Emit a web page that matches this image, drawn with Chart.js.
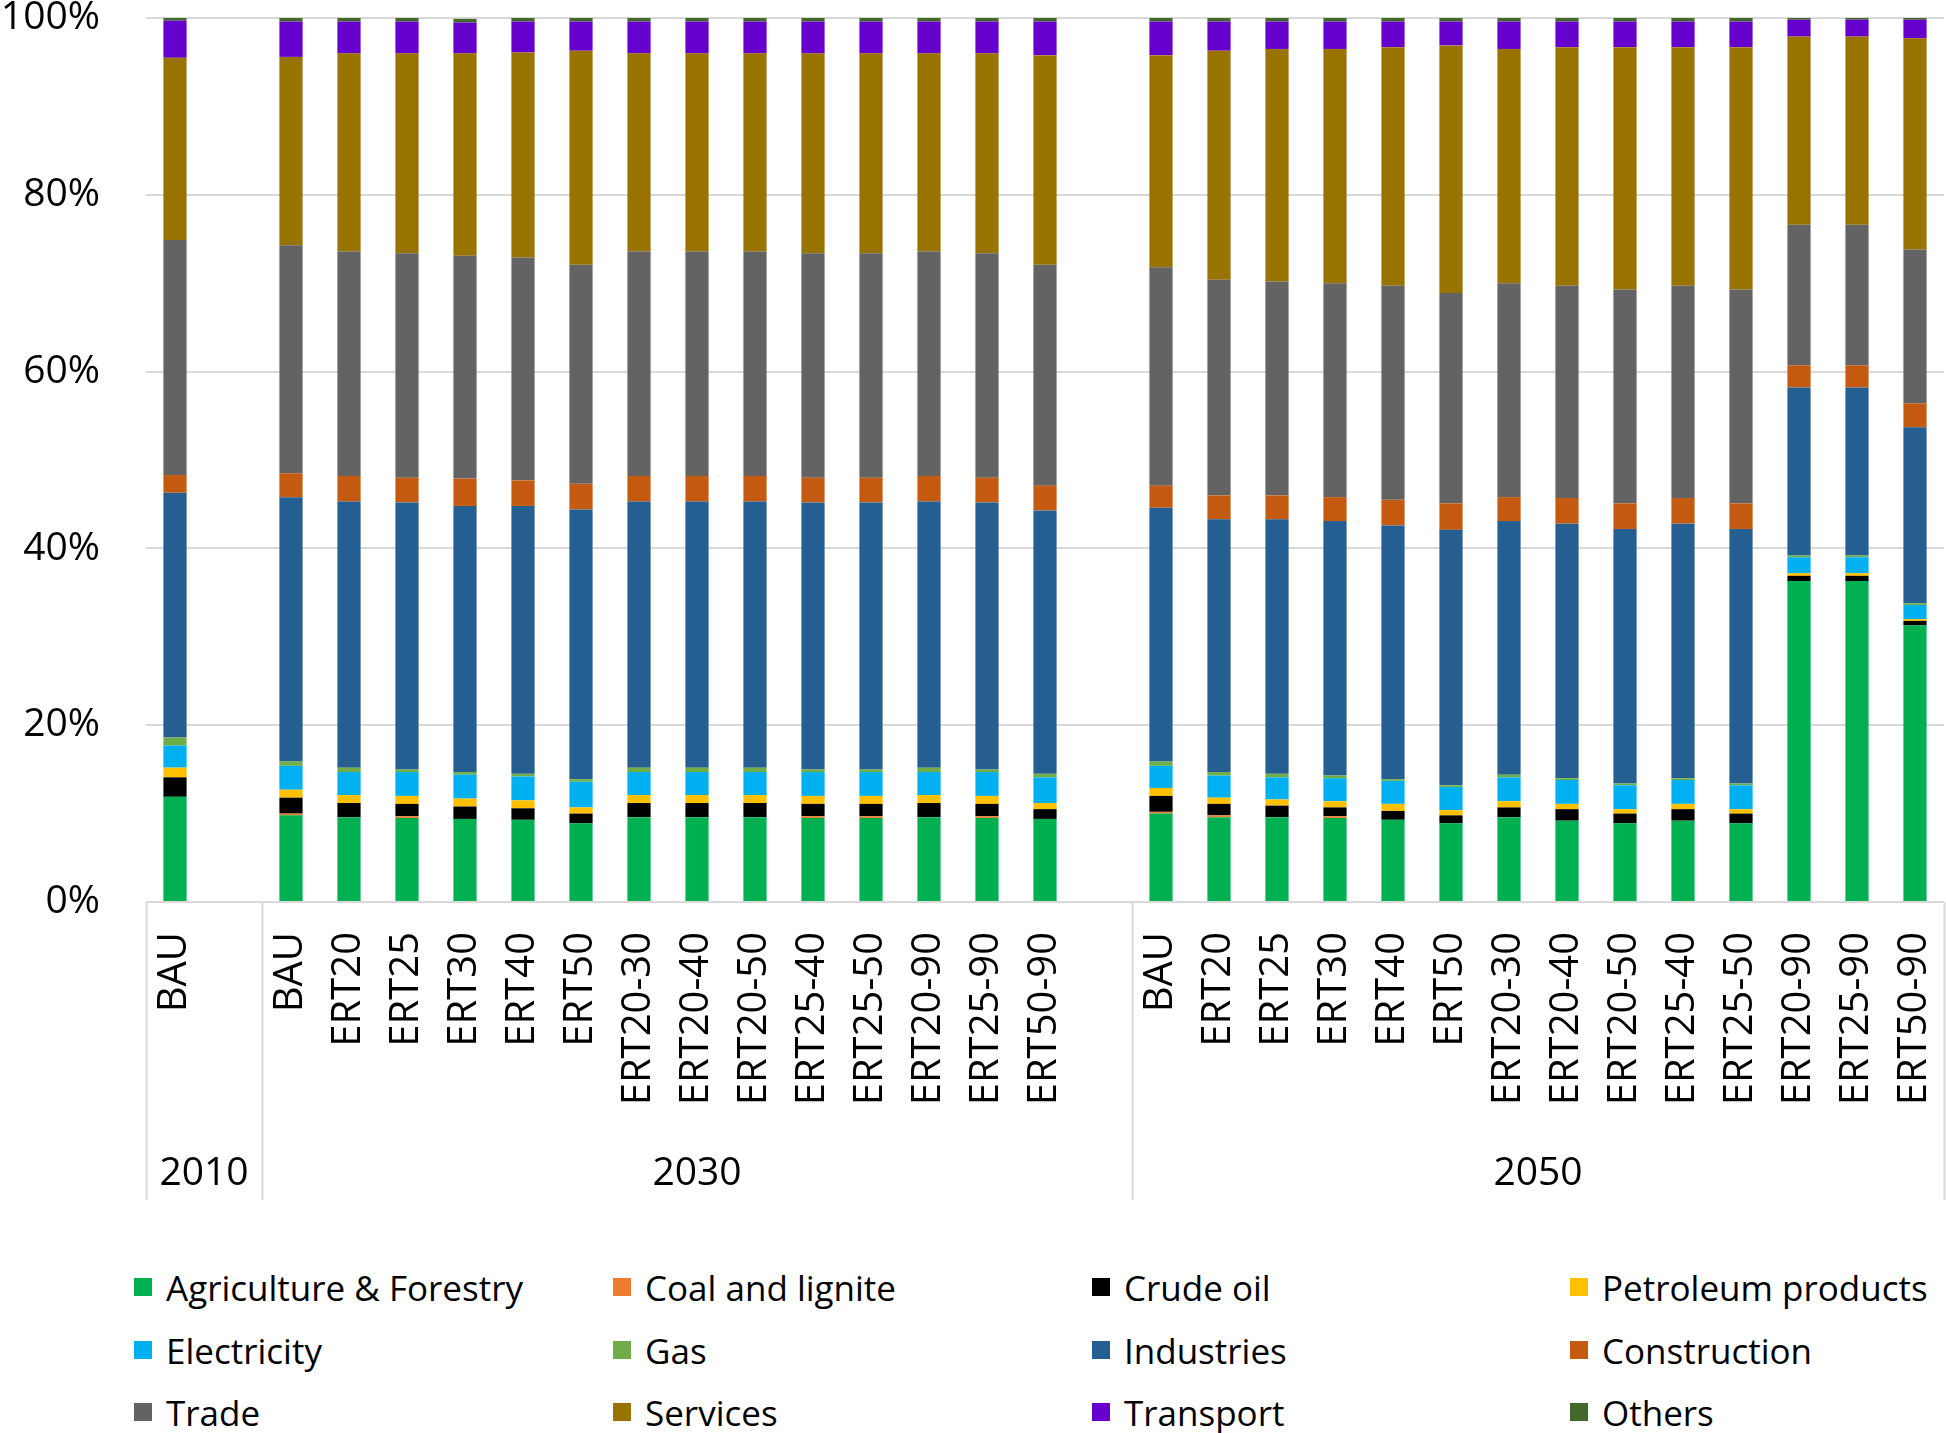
<!DOCTYPE html>
<html>
<head>
<meta charset="utf-8">
<script src="https://cdn.jsdelivr.net/npm/chart.js@4.4.1/dist/chart.umd.min.js"></script>
<style>
  html, body { margin: 0; padding: 0; background: #ffffff; }
  #wrap { position: relative; width: 1946px; height: 1433px; overflow: hidden; }
  #chart { position: absolute; left: 0; top: 0; }
  #legend { position: absolute; left: 0; top: 1262px; width: 1946px; font-family: "Open Sans", sans-serif; font-size: 35px; color: #000; }
  .li { position: absolute; display: flex; align-items: center; white-space: nowrap; height: 50px; }
  .sw { width: 18px; height: 18px; margin-right: 14px; flex: none; }
</style>
</head>
<body>
<div id="wrap">
  <canvas id="chart" width="1946" height="1215"></canvas>
  <div id="legend"></div>
</div>
<script>
// ---- Data (percent shares, stacked to 100%) ----
const categories = ["BAU", "",
  "BAU","ERT20","ERT25","ERT30","ERT40","ERT50","ERT20-30","ERT20-40","ERT20-50","ERT25-40","ERT25-50","ERT20-90","ERT25-90","ERT50-90", "",
  "BAU","ERT20","ERT25","ERT30","ERT40","ERT50","ERT20-30","ERT20-40","ERT20-50","ERT25-40","ERT25-50","ERT20-90","ERT25-90","ERT50-90"];
const groupLabels = ["2010", "2030", "2050"];
const groupStart = [0, 2, 17];
const groupEnd = [1, 16, 30];
const yTicks = [0, 20, 40, 60, 80, 100];

const agriculture = [11.9, null, 9.8, 9.6, 9.5, 9.4, 9.3, 8.9, 9.6, 9.6, 9.6, 9.5, 9.5, 9.6, 9.5, 9.4, null, 10.0, 9.6, 9.6, 9.5, 9.3, 8.9, 9.6, 9.2, 8.9, 9.2, 8.9, 36.3, 36.3, 31.3];
const coal = [0, null, 0.2, 0, 0.2, 0, 0, 0, 0, 0, 0, 0.2, 0.2, 0, 0.2, 0, null, 0.2, 0.2, 0, 0.2, 0, 0, 0, 0, 0, 0, 0, 0, 0, 0];
const crudeOil = [2.2, null, 1.8, 1.6, 1.4, 1.4, 1.3, 1.1, 1.6, 1.6, 1.6, 1.4, 1.4, 1.6, 1.4, 1.1, null, 1.8, 1.3, 1.3, 1.0, 1.0, 0.9, 1.1, 1.3, 1.1, 1.3, 1.1, 0.6, 0.6, 0.5];
const petroleum = [1.1, null, 0.9, 0.9, 0.9, 0.9, 0.9, 0.7, 0.9, 0.9, 0.9, 0.9, 0.9, 0.9, 0.9, 0.7, null, 0.9, 0.7, 0.7, 0.7, 0.8, 0.6, 0.7, 0.6, 0.5, 0.6, 0.5, 0.3, 0.3, 0.2];
const electricity = [2.5, null, 2.7, 2.6, 2.7, 2.7, 2.7, 2.9, 2.6, 2.6, 2.6, 2.7, 2.7, 2.6, 2.7, 2.9, null, 2.5, 2.5, 2.5, 2.6, 2.6, 2.6, 2.7, 2.7, 2.7, 2.7, 2.7, 1.8, 1.8, 1.6];
const gas = [0.9, null, 0.5, 0.5, 0.3, 0.3, 0.3, 0.3, 0.5, 0.5, 0.5, 0.3, 0.3, 0.5, 0.3, 0.4, null, 0.5, 0.4, 0.4, 0.3, 0.2, 0.2, 0.3, 0.2, 0.2, 0.2, 0.2, 0.2, 0.2, 0.2];
const industries = [27.7, null, 29.9, 30.1, 30.2, 30.1, 30.3, 30.5, 30.1, 30.1, 30.1, 30.2, 30.2, 30.1, 30.2, 29.8, null, 28.7, 28.6, 28.8, 28.8, 28.7, 28.9, 28.7, 28.8, 28.8, 28.8, 28.8, 19.0, 19.0, 19.9];
const construction = [2.0, null, 2.7, 2.9, 2.8, 3.1, 2.9, 2.9, 2.9, 2.9, 2.9, 2.8, 2.8, 2.9, 2.8, 2.8, null, 2.5, 2.7, 2.7, 2.7, 2.9, 3.0, 2.7, 2.9, 2.9, 2.9, 2.9, 2.5, 2.5, 2.7];
const trade = [26.6, null, 25.8, 25.4, 25.4, 25.2, 25.2, 24.8, 25.4, 25.4, 25.4, 25.4, 25.4, 25.4, 25.4, 25.0, null, 24.7, 24.4, 24.2, 24.2, 24.2, 23.8, 24.2, 24.0, 24.2, 24.0, 24.2, 15.9, 15.9, 17.4];
const services = [20.6, null, 21.3, 22.4, 22.6, 22.9, 23.2, 24.2, 22.4, 22.4, 22.4, 22.6, 22.6, 22.4, 22.6, 23.7, null, 24.0, 25.9, 26.3, 26.5, 27.0, 28.0, 26.5, 27.0, 27.4, 27.0, 27.4, 21.3, 21.3, 23.9];
const transport = [4.2, null, 4.0, 3.6, 3.6, 3.5, 3.5, 3.3, 3.6, 3.6, 3.6, 3.6, 3.6, 3.6, 3.6, 3.8, null, 3.8, 3.3, 3.1, 3.1, 2.9, 2.7, 3.1, 2.9, 2.9, 2.9, 2.9, 1.9, 1.9, 2.1];
const others = [0.4, null, 0.4, 0.4, 0.4, 0.4, 0.4, 0.4, 0.4, 0.4, 0.4, 0.4, 0.4, 0.4, 0.4, 0.4, null, 0.4, 0.4, 0.4, 0.4, 0.4, 0.4, 0.4, 0.4, 0.4, 0.4, 0.4, 0.2, 0.2, 0.2];

const seriesNames = ["Agriculture & Forestry", "Coal and lignite", "Crude oil", "Petroleum products",
  "Electricity", "Gas", "Industries", "Construction", "Trade", "Services", "Transport", "Others"];
const seriesData = [agriculture, coal, crudeOil, petroleum, electricity, gas, industries, construction, trade, services, transport, others];
const seriesColors = ["#00B050", "#ED7D31", "#000000", "#FFC000", "#00B0F0", "#70AD47",
  "#255E91", "#C55A11", "#636363", "#997300", "#6600CC", "#43682B"];

const FONT = "'Open Sans', sans-serif";
const GRID = "#d9d9d9";

const groupPlugin = {
  id: "groupAxis",
  afterDraw(chart) {
    const ctx = chart.ctx;
    const xs = chart.scales.x;
    const area = chart.chartArea;
    const px = i => xs.getPixelForTick(i);
    const leftB = i => i === 0 ? area.left : (px(i - 1) + px(i)) / 2;
    const rightB = i => i === categories.length - 1 ? area.right : (px(i) + px(i + 1)) / 2;
    const lineBottom = 1200;
    ctx.save();
    ctx.strokeStyle = GRID;
    ctx.lineWidth = 2;
    const bounds = new Set();
    groupStart.forEach((s, g) => { bounds.add(leftB(s)); bounds.add(rightB(groupEnd[g])); });
    bounds.forEach(x => {
      const xx = Math.min(Math.round(x), chart.width - 2);
      ctx.beginPath();
      ctx.moveTo(xx + 0.5, area.bottom);
      ctx.lineTo(xx + 0.5, lineBottom);
      ctx.stroke();
    });
    ctx.fillStyle = "#000";
    ctx.font = "39px " + FONT;
    ctx.textAlign = "center";
    ctx.textBaseline = "middle";
    groupLabels.forEach((lab, g) => {
      const cx = (leftB(groupStart[g]) + rightB(groupEnd[g])) / 2;
      ctx.fillText(lab, cx, 1174);
    });
    ctx.restore();
  }
};

const chart = new Chart(document.getElementById("chart"), {
  type: "bar",
  data: {
    labels: categories,
    datasets: seriesNames.map((name, i) => ({
      label: name,
      data: seriesData[i],
      backgroundColor: seriesColors[i],
      borderWidth: 0,
      categoryPercentage: 1.0,
      barPercentage: 0.4
    }))
  },
  options: {
    responsive: false,
    animation: false,
    devicePixelRatio: 1,
    layout: { padding: { left: 0, right: 2, top: 18, bottom: 0 } },
    plugins: {
      legend: { display: false },
      tooltip: { enabled: false }
    },
    scales: {
      x: {
        stacked: true,
        offset: true,
        grid: { display: false, drawTicks: false },
        border: { display: false },
        ticks: {
          autoSkip: false,
          minRotation: 90,
          maxRotation: 90,
          padding: 30,
          color: "#000",
          font: { family: FONT, size: 40 }
        },
        afterFit(scale) {
          scale.height = 1215 - 902;
          scale.paddingLeft = 0;
          scale.paddingRight = 0;
        }
      },
      y: {
        stacked: true,
        min: 0,
        max: 100,
        grid: { color: GRID, lineWidth: 2, drawTicks: false },
        border: { display: false },
        afterBuildTicks(scale) { scale.ticks = yTicks.map(v => ({ value: v })); },
        ticks: {
          padding: 46,
          color: "#000",
          font: { family: FONT, size: 39 },
          callback: v => v + "%"
        },
        afterFit(scale) {
          scale.width = 146;
          scale.paddingTop = 0;
          scale.paddingBottom = 0;
        }
      }
    }
  },
  plugins: [groupPlugin]
});

// ---- HTML legend (4 columns x 3 rows) ----
const legend = document.getElementById("legend");
const colX = [134, 613, 1092, 1570];
const rowY = [0, 63, 125];
seriesNames.forEach((name, i) => {
  const item = document.createElement("div");
  item.className = "li";
  item.style.left = colX[i % 4] + "px";
  item.style.top = rowY[Math.floor(i / 4)] + "px";
  const sw = document.createElement("span");
  sw.className = "sw";
  sw.style.background = seriesColors[i];
  const tx = document.createElement("span");
  tx.textContent = name;
  item.appendChild(sw);
  item.appendChild(tx);
  legend.appendChild(item);
});
</script>
</body>
</html>
